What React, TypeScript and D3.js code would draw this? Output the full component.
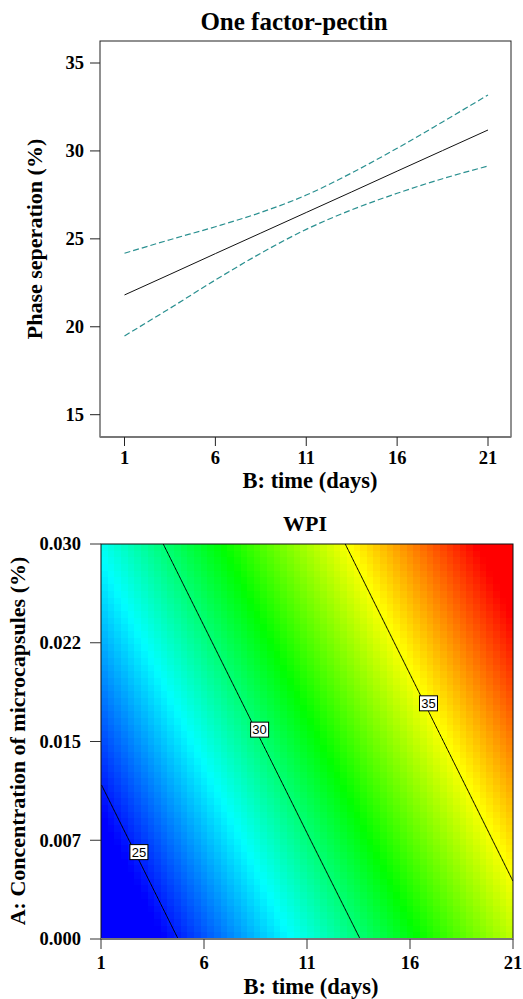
import React, { useMemo } from 'react';
import * as d3 from 'd3';

const W = 523;
const H = 999;
const SERIF = '"Liberation Serif", "Times New Roman", serif';
const SANS = '"Liberation Sans", Arial, sans-serif';

// ---------- Top chart: One factor-pectin ----------
const pectinDays = [1, 3.5, 6, 8.5, 11, 13.5, 16, 18.5, 21];
const pectinMean = [21.81, 22.98, 24.16, 25.33, 26.5, 27.67, 28.85, 30.02, 31.19];
const pectinUpper = [24.18, 24.95, 25.69, 26.5, 27.49, 28.75, 30.15, 31.65, 33.18];
const pectinLower = [19.48, 21.05, 22.66, 24.18, 25.54, 26.65, 27.59, 28.42, 29.14];
const topYTicks = [15, 20, 25, 30, 35];
const dayTicks = [1, 6, 11, 16, 21];

// ---------- Bottom chart: WPI contour ----------
const gridDays = [1, 6, 11, 16, 21];
const gridConc = [0, 0.0075, 0.015, 0.0225, 0.03];
const wpiAt0 = [22.88, 25.71, 28.54, 31.37, 34.21];
const wpiAt0075 = [24.23, 27.06, 29.9, 32.73, 35.56];
const wpiAt015 = [25.58, 28.42, 31.25, 34.08, 36.91];
const wpiAt0225 = [26.94, 29.77, 32.6, 35.43, 38.26];
const wpiAt03 = [28.29, 31.12, 33.95, 36.78, 39.62];
const concTickLabels = ['0.000', '0.007', '0.015', '0.022', '0.030'];
const contourLevels = [25, 30, 35];
const contourLabelConc = [0.0066, 0.0159, 0.0179];
const colorStops = [24.6, 28.1, 31.6, 35.1, 38.6];
const colorStopColors = ['#0000ff', '#00ffff', '#00ff00', '#ffff00', '#ff0000'];

const wpiGrid = [wpiAt0, wpiAt0075, wpiAt015, wpiAt0225, wpiAt03];

function fieldAt(b: number, a: number): number {
  const nx = gridDays.length - 1;
  const ny = gridConc.length - 1;
  const fx = ((b - gridDays[0]) / (gridDays[nx] - gridDays[0])) * nx;
  const fy = ((a - gridConc[0]) / (gridConc[ny] - gridConc[0])) * ny;
  const i = Math.max(0, Math.min(nx - 1, Math.floor(fx)));
  const j = Math.max(0, Math.min(ny - 1, Math.floor(fy)));
  const tx = fx - i;
  const ty = fy - j;
  const v00 = wpiGrid[j][i];
  const v10 = wpiGrid[j][i + 1];
  const v01 = wpiGrid[j + 1][i];
  const v11 = wpiGrid[j + 1][i + 1];
  return (v00 * (1 - tx) + v10 * tx) * (1 - ty) + (v01 * (1 - tx) + v11 * tx) * ty;
}

function crossingB(level: number, a: number): number | null {
  const steps = 400;
  const b0 = gridDays[0];
  const b1 = gridDays[gridDays.length - 1];
  let prevB = b0;
  let prevV = fieldAt(b0, a) - level;
  for (let k = 1; k <= steps; k++) {
    const b = b0 + ((b1 - b0) * k) / steps;
    const v = fieldAt(b, a) - level;
    if (prevV === 0) return prevB;
    if (prevV * v <= 0) {
      const t = prevV / (prevV - v);
      return prevB + (b - prevB) * t;
    }
    prevB = b;
    prevV = v;
  }
  return null;
}

export default function App() {
  // Top chart scales
  const tx = d3.scaleLinear().domain([1, 21]).range([124.5, 488]);
  const ty = d3.scaleLinear().domain([15, 35]).range([414.7, 63]);
  const topFrame = { x0: 100, x1: 511, y0: 41, y1: 437 };

  const meanLine = d3
    .line<number>()
    .x((_, i) => tx(pectinDays[i]))
    .y((d) => ty(d))
    .curve(d3.curveMonotoneX);

  // Bottom chart scales
  const bf = { x0: 101, x1: 513, y0: 544, y1: 939 };
  const bx = d3.scaleLinear().domain([gridDays[0], gridDays[gridDays.length - 1]]).range([bf.x0, bf.x1]);
  const by = d3.scaleLinear().domain([gridConc[0], gridConc[gridConc.length - 1]]).range([bf.y1, bf.y0]);
  const color = d3
    .scaleLinear<string>()
    .domain(colorStops)
    .range(colorStopColors)
    .interpolate(d3.interpolateRgb)
    .clamp(true);

  const heatUrl = useMemo(() => {
    const NX = 62;
    const NY = 59;
    const canvas = document.createElement('canvas');
    canvas.width = NX;
    canvas.height = NY;
    const ctx = canvas.getContext('2d');
    if (!ctx) return '';
    for (let j = 0; j < NY; j++) {
      const a = by.invert(bf.y0 + ((j + 0.5) / NY) * (bf.y1 - bf.y0));
      for (let i = 0; i < NX; i++) {
        const b = bx.invert(bf.x0 + ((i + 0.5) / NX) * (bf.x1 - bf.x0));
        ctx.fillStyle = color(fieldAt(b, a));
        ctx.fillRect(i, j, 1, 1);
      }
    }
    return canvas.toDataURL();
  }, []);

  const contourPaths = contourLevels.map((level) => {
    const pts: ([number, number] | null)[] = [];
    const n = 300;
    const a0 = gridConc[0];
    const a1 = gridConc[gridConc.length - 1];
    for (let k = 0; k <= n; k++) {
      const a = a0 + ((a1 - a0) * k) / n;
      const b = crossingB(level, a);
      pts.push(b === null ? null : [b, a]);
    }
    const line = d3
      .line<[number, number] | null>()
      .defined((d) => d !== null)
      .x((d) => bx((d as [number, number])[0]))
      .y((d) => by((d as [number, number])[1]));
    return line(pts) || '';
  });

  const labels = contourLevels.map((level, i) => {
    const a = contourLabelConc[i];
    const b = crossingB(level, a);
    return { level, x: b === null ? 0 : bx(b) + 4, y: by(a) };
  });

  return (
    <svg
      width={W}
      height={H}
      viewBox={`0 0 ${W} ${H}`}
      style={{ position: 'absolute', left: 0, top: 0, display: 'block', background: '#fff' }}
    >
      <defs>
        <clipPath id="bclip">
          <rect x={bf.x0} y={bf.y0} width={bf.x1 - bf.x0} height={bf.y1 - bf.y0} />
        </clipPath>
      </defs>

      {/* ===== Top chart ===== */}
      <text x={294} y={30} textAnchor="middle" fontFamily={SERIF} fontWeight="bold" fontSize={25} fill="#000">
        One factor-pectin
      </text>
      <rect
        x={topFrame.x0}
        y={topFrame.y0}
        width={topFrame.x1 - topFrame.x0}
        height={topFrame.y1 - topFrame.y0}
        fill="none"
        stroke="#222"
        strokeWidth={1}
      />
      <line x1={topFrame.x0} x2={topFrame.x1} y1={topFrame.y1} y2={topFrame.y1} stroke="#777" strokeWidth={2} />
      {topYTicks.map((t) => (
        <g key={`ty${t}`}>
          <line x1={90} x2={topFrame.x0} y1={ty(t)} y2={ty(t)} stroke="#222" strokeWidth={1} />
          <text x={84} y={ty(t)} dy="0.34em" textAnchor="end" fontFamily={SERIF} fontWeight="bold" fontSize={18.5}>
            {t}
          </text>
        </g>
      ))}
      {dayTicks.map((t) => (
        <g key={`tx${t}`}>
          <line x1={tx(t)} x2={tx(t)} y1={topFrame.y1} y2={446} stroke="#222" strokeWidth={1} />
          <text x={tx(t)} y={464} textAnchor="middle" fontFamily={SERIF} fontWeight="bold" fontSize={18.5}>
            {t}
          </text>
        </g>
      ))}
      <text x={310} y={488} textAnchor="middle" fontFamily={SERIF} fontWeight="bold" fontSize={22.5}>
        B: time (days)
      </text>
      <text
        transform={`translate(42,239) rotate(-90)`}
        textAnchor="middle"
        fontFamily={SERIF}
        fontWeight="bold"
        fontSize={22}
      >
        Phase seperation (%)
      </text>
      <path d={meanLine(pectinUpper) || ''} fill="none" stroke="#2a9090" strokeWidth={1.2} strokeDasharray="6,3" />
      <path d={meanLine(pectinLower) || ''} fill="none" stroke="#2a9090" strokeWidth={1.2} strokeDasharray="6,3" />
      <path d={meanLine(pectinMean) || ''} fill="none" stroke="#111" strokeWidth={1} />

      {/* ===== Bottom chart ===== */}
      <text x={305} y={531} textAnchor="middle" fontFamily={SERIF} fontWeight="bold" fontSize={22}>
        WPI
      </text>
      {heatUrl && (
        <image
          href={heatUrl}
          x={bf.x0}
          y={bf.y0}
          width={bf.x1 - bf.x0}
          height={bf.y1 - bf.y0}
          preserveAspectRatio="none"
          style={{ imageRendering: 'pixelated' }}
        />
      )}
      <g clipPath="url(#bclip)">
        {contourPaths.map((d, i) => (
          <path key={`c${i}`} d={d} fill="none" stroke="#000" strokeWidth={1} />
        ))}
      </g>
      {labels.map((l) => (
        <g key={`l${l.level}`}>
          <rect x={l.x - 9} y={l.y - 7.5} width={18} height={15} fill="#fff" stroke="#000" strokeWidth={1} />
          <text x={l.x} y={l.y} dy="0.36em" textAnchor="middle" fontFamily={SANS} fontSize={13} fill="#000">
            {l.level}
          </text>
        </g>
      ))}
      <rect
        x={bf.x0}
        y={bf.y0}
        width={bf.x1 - bf.x0}
        height={bf.y1 - bf.y0}
        fill="none"
        stroke="#111"
        strokeWidth={1}
      />
      <line x1={bf.x0} x2={bf.x1} y1={bf.y1} y2={bf.y1} stroke="#777" strokeWidth={2} />
      {gridConc.map((c, i) => (
        <g key={`by${i}`}>
          <line x1={90} x2={bf.x0} y1={by(c)} y2={by(c)} stroke="#333" strokeWidth={1} />
          <text x={81} y={by(c)} dy="0.34em" textAnchor="end" fontFamily={SERIF} fontWeight="bold" fontSize={18.5}>
            {concTickLabels[i]}
          </text>
        </g>
      ))}
      {dayTicks.map((t) => (
        <g key={`bx${t}`}>
          <line x1={bx(t)} x2={bx(t)} y1={bf.y1} y2={949} stroke="#333" strokeWidth={1} />
          <text x={bx(t)} y={969} textAnchor="middle" fontFamily={SERIF} fontWeight="bold" fontSize={18.5}>
            {t}
          </text>
        </g>
      ))}
      <text x={311} y={994} textAnchor="middle" fontFamily={SERIF} fontWeight="bold" fontSize={22.5}>
        B: time (days)
      </text>
      <text
        transform={`translate(25,741) rotate(-90)`}
        textAnchor="middle"
        fontFamily={SERIF}
        fontWeight="bold"
        fontSize={22}
      >
        A: Concentration of microcapsules (%)
      </text>
    </svg>
  );
}
